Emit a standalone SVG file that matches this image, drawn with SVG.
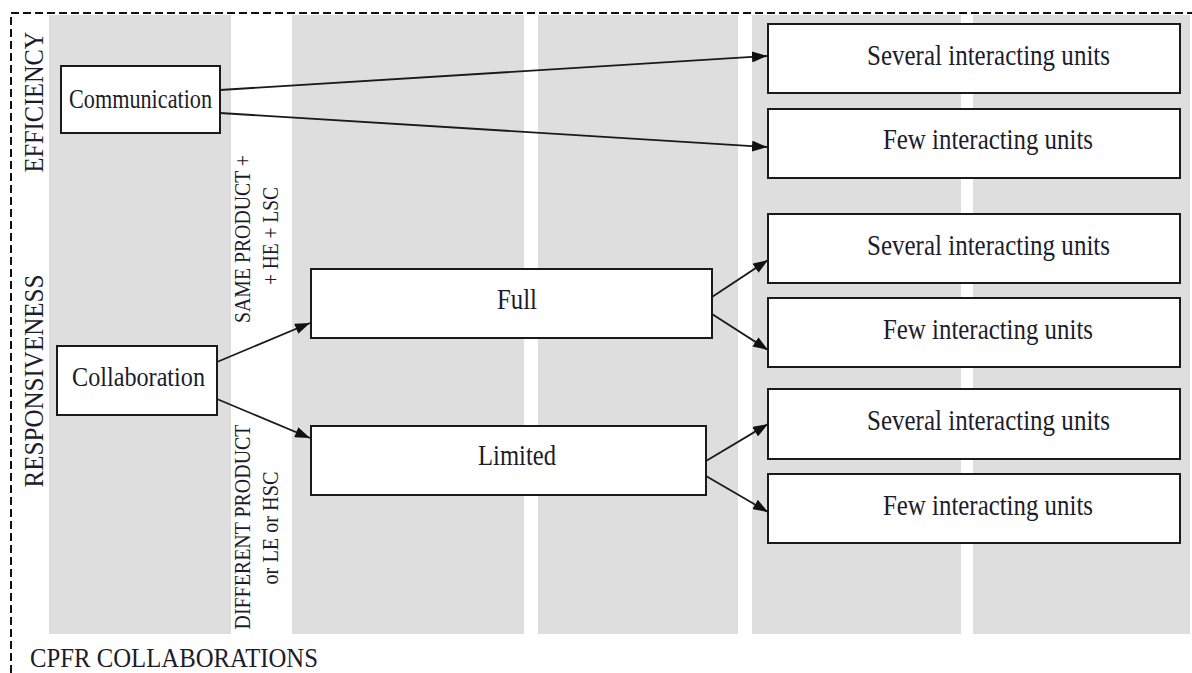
<svg xmlns="http://www.w3.org/2000/svg" width="1192" height="673" viewBox="0 0 1192 673">
  <style>
    .band { fill: #dedede; }
    .box { fill: #ffffff; stroke: #1a1a1a; stroke-width: 2; }
    .lbl { font-family: "Liberation Serif", "Times New Roman", serif; fill: #1c1c2a; }
    .big { font-size: 28.5px; }
    .side { font-size: 26.5px; }
    .cond { font-size: 23px; }
    .edge { fill: none; stroke: #1a1a1a; stroke-width: 1.8; marker-end: url(#arr); }
    .frame { fill: none; stroke: #111; stroke-width: 2; stroke-dasharray: 8 4; }
  </style>
  <defs>
    <marker id="arr" viewBox="0 0 15 11" refX="15" refY="5.5" markerWidth="15" markerHeight="11" markerUnits="userSpaceOnUse" orient="auto">
      <path d="M0,0 L15,5.5 L0,11 z" fill="#111"/>
    </marker>
  </defs>

  <rect width="1192" height="673" fill="#ffffff"/>

  <!-- column bands -->
  <g id="bands">
    <rect class="band" x="49" y="15" width="182" height="619"/>
    <rect class="band" x="292" y="15" width="232" height="619"/>
    <rect class="band" x="538" y="15" width="200" height="619"/>
    <rect class="band" x="752" y="15" width="209" height="619"/>
    <rect class="band" x="973" y="15" width="217" height="619"/>
  </g>

  <!-- dashed frame (top and left edges) -->
  <path class="frame" d="M11,673 L11,13 L1192,13"/>

  <!-- axis labels -->
  <g id="axis-labels" class="lbl side">
    <text transform="translate(43,102) rotate(-90)" text-anchor="middle" textLength="141" lengthAdjust="spacingAndGlyphs">EFFICIENCY</text>
    <text transform="translate(43,381) rotate(-90)" text-anchor="middle" textLength="213" lengthAdjust="spacingAndGlyphs">RESPONSIVENESS</text>
    <text x="30" y="667" textLength="288" lengthAdjust="spacingAndGlyphs">CPFR COLLABORATIONS</text>
  </g>

  <!-- branch conditions -->
  <g id="conditions" class="lbl cond">
    <text transform="translate(250,239) rotate(-90)" text-anchor="middle" textLength="168" lengthAdjust="spacingAndGlyphs">SAME PRODUCT +</text>
    <text transform="translate(278,236) rotate(-90)" text-anchor="middle" textLength="98" lengthAdjust="spacingAndGlyphs">+ HE + LSC</text>
    <text transform="translate(250,527) rotate(-90)" text-anchor="middle" textLength="205" lengthAdjust="spacingAndGlyphs">DIFFERENT PRODUCT</text>
    <text transform="translate(278,528) rotate(-90)" text-anchor="middle" textLength="113" lengthAdjust="spacingAndGlyphs">or LE or HSC</text>
  </g>

  <!-- connectors -->
  <g id="connectors">
    <line class="edge" x1="220" y1="90" x2="767" y2="56"/>
    <line class="edge" x1="220" y1="113" x2="767" y2="147"/>
    <line class="edge" x1="217" y1="362" x2="310" y2="323"/>
    <line class="edge" x1="217" y1="399" x2="310" y2="438"/>
    <line class="edge" x1="712" y1="297" x2="768" y2="260"/>
    <line class="edge" x1="712" y1="314" x2="768" y2="350"/>
    <line class="edge" x1="706" y1="461" x2="768" y2="424"/>
    <line class="edge" x1="706" y1="476" x2="768" y2="512"/>
  </g>

  <!-- nodes -->
  <g id="communication">
    <rect class="box" x="61" y="66" width="159" height="67"/>
    <text class="lbl" x="140.5" y="108" font-size="27" text-anchor="middle" textLength="143" lengthAdjust="spacingAndGlyphs">Communication</text>
  </g>
  <g id="collaboration">
    <rect class="box" x="57" y="346" width="160" height="69"/>
    <text class="lbl" x="138.5" y="386" font-size="27.5" text-anchor="middle" textLength="133" lengthAdjust="spacingAndGlyphs">Collaboration</text>
  </g>
  <g id="full">
    <rect class="box" x="311" y="269" width="401" height="69"/>
    <text class="lbl big" x="517" y="309" text-anchor="middle" textLength="40" lengthAdjust="spacingAndGlyphs">Full</text>
  </g>
  <g id="limited">
    <rect class="box" x="311" y="426" width="395" height="69"/>
    <text class="lbl big" x="517" y="465" text-anchor="middle" textLength="78" lengthAdjust="spacingAndGlyphs">Limited</text>
  </g>
  <g id="comm-several">
    <rect class="box" x="768" y="24" width="412" height="69"/>
    <text class="lbl big" x="988.5" y="65" text-anchor="middle" textLength="243" lengthAdjust="spacingAndGlyphs">Several interacting units</text>
  </g>
  <g id="comm-few">
    <rect class="box" x="768" y="109" width="412" height="69"/>
    <text class="lbl big" x="988" y="149" text-anchor="middle" textLength="210" lengthAdjust="spacingAndGlyphs">Few interacting units</text>
  </g>
  <g id="full-several">
    <rect class="box" x="768" y="214" width="412" height="69"/>
    <text class="lbl big" x="988.5" y="255" text-anchor="middle" textLength="243" lengthAdjust="spacingAndGlyphs">Several interacting units</text>
  </g>
  <g id="full-few">
    <rect class="box" x="768" y="298" width="412" height="69"/>
    <text class="lbl big" x="988" y="339" text-anchor="middle" textLength="210" lengthAdjust="spacingAndGlyphs">Few interacting units</text>
  </g>
  <g id="limited-several">
    <rect class="box" x="768" y="389" width="412" height="70"/>
    <text class="lbl big" x="988.5" y="430" text-anchor="middle" textLength="243" lengthAdjust="spacingAndGlyphs">Several interacting units</text>
  </g>
  <g id="limited-few">
    <rect class="box" x="768" y="474" width="412" height="69"/>
    <text class="lbl big" x="988" y="515" text-anchor="middle" textLength="210" lengthAdjust="spacingAndGlyphs">Few interacting units</text>
  </g>
</svg>
